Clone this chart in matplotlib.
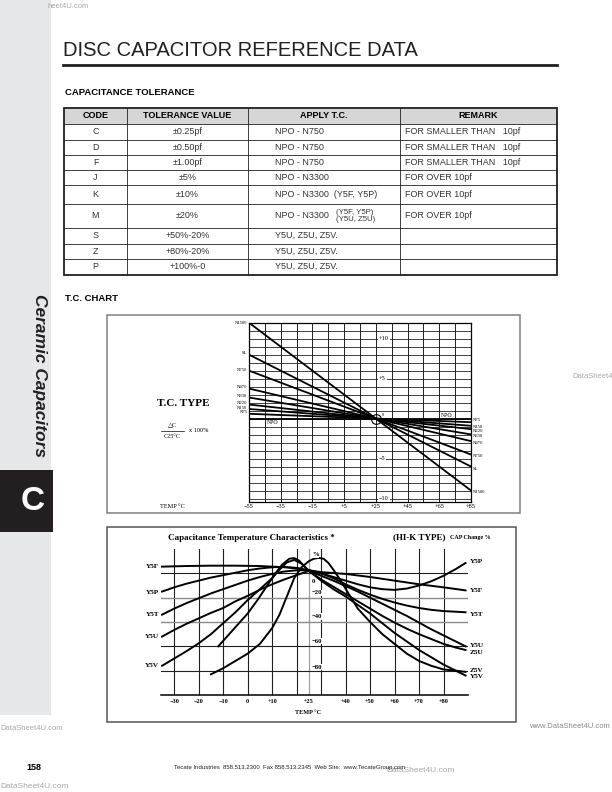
import numpy as np
import matplotlib
matplotlib.use("Agg")
import matplotlib.pyplot as plt
from matplotlib.patches import Rectangle

plt.rcParams["font.family"] = ["Liberation Sans", "DejaVu Sans"]
SERIF = ["Liberation Serif", "DejaVu Serif"]

# ---- capacitance tolerance table ----
table_headers = ["CODE", "TOLERANCE VALUE", "APPLY T.C.", "REMARK"]
codes = ["C", "D", "F", "J", "K", "M", "S", "Z", "P"]
tolerances = ["±0.25pf", "±0.50pf", "±1.00pf", "±5%", "±10%", "±20%",
              "+50%-20%", "+80%-20%", "+100%-0"]
apply_tc = ["NPO - N750", "NPO - N750", "NPO - N750", "NPO - N3300",
            "NPO - N3300  (Y5F, Y5P)", "NPO - N3300", "Y5U, Z5U, Z5V.",
            "Y5U, Z5U, Z5V.", "Y5U, Z5U, Z5V."]
remarks = ["FOR SMALLER THAN   10pf"] * 3 + ["FOR OVER 10pf"] * 3 + [""] * 3

# ---- T.C. chart (delta C %, at -55, +25, +85 C) ----
tc_names = ["N1500", "SL", "N750", "N470", "N330", "N220", "N150", "N75", "NPO"]
tc_temps = [-55, 25, 85]
tc_cold = [12.0, 8.0, 6.0, 3.76, 2.64, 1.76, 1.2, 0.6, 0.0]
tc_hot = [-9.0, -6.0, -4.5, -2.82, -1.98, -1.32, -0.9, -0.45, 0.0]
tc_left_label_y = [12.0, 8.2, 6.1, 3.95, 2.84, 2.0, 1.37, 0.8]
tc_right_label_y = [-9.2, -6.25, -4.7, -3.0, -2.2, -1.55, -1.0, -0.2]

# ---- HI-K capacitance temperature characteristics ----
y5f_t = [-35, -25, -15, -5, 5, 15, 20, 25, 30, 40, 50, 60, 70, 80, 89]
y5f_c = [5.5, 6, 6.3, 6.3, 6, 5, 4, 2.5, 1, -0.5, -3, -6, -9, -11.5, -14]
y5p_t = [-35, -30, -25, -20, -15, -10, -5, 0, 5, 10, 15, 20, 25, 30, 35, 40,
         45, 50, 55, 60, 65, 70, 75, 80, 85, 89]
y5p_c = [-15, -11.5, -8.5, -6, -3.5, -1.5, 0.5, 2.5, 4, 5, 5.3, 4.5, 2.5, 0,
         -3, -6, -9, -11.5, -13, -13.6, -12.5, -10, -6.5, -2, 3.5, 8.5]
y5t_t = [-35, -30, -25, -20, -15, -10, -5, 0, 5, 10, 15, 20, 25, 30, 35, 40,
         45, 50, 55, 60, 65, 70, 75, 80, 89]
y5t_c = [-34, -29, -24.5, -20.5, -16.5, -13, -9.5, -6, -3, -0.5, 1.5, 2.5,
         2.5, 0, -4, -9, -13.5, -17.5, -21, -24, -26.5, -28.5, -30, -31, -32]
y5u_t = [-35, -30, -25, -20, -15, -10, -5, 0, 5, 10, 15, 20, 25, 35, 45, 55,
         65, 75, 89]
y5u_c = [-52, -46.5, -41.5, -37, -32.5, -28.5, -23, -18.5, -13.5, -9, -5,
         -1.5, 2, -6, -15, -25, -35, -46, -60]
y5v_t = [-35, -30, -25, -20, -15, -10, -5, 0, 5, 10, 13, 16, 19, 22, 25, 30,
         35, 40, 45, 50, 55, 60, 65, 70, 75, 80, 85, 89]
y5v_c = [-76, -70, -64, -57.5, -50, -41, -32, -22, -13, -4, 3, 9, 11, 8, 2,
         -6, -13, -19, -26, -33, -41, -49, -56, -63, -69, -75, -80, -84]
z5u_t = [-12, -8, -4, 0, 4, 8, 11, 14, 17, 19, 21, 23, 25, 30, 35, 40, 45,
         50, 55, 60, 65, 70, 75, 80, 85, 89]
z5u_c = [-60, -51, -42, -33, -22, -10, -1, 7, 12, 12.5, 10.5, 6, 2, -5, -11,
         -17, -23, -29, -35, -40.5, -45.5, -50, -54, -58, -61, -63]
z5v_t = [-15, -10, -5, 0, 5, 10, 13, 16, 19, 22, 25, 27, 29, 31, 33, 35, 38,
         41, 45, 50, 55, 60, 65, 70, 75, 80, 85, 89]
z5v_c = [-83, -78, -72, -66, -58, -45, -34, -19, -4, 5, 10, 12, 12.7, 12,
         8.5, 3, -6, -16, -29, -40, -50, -58, -66, -72, -76, -79, -80, -81]
hik_xticks = [-30, -20, -10, 0, 10, 25, 40, 50, 60, 70, 80]
hik_xlabels = ["−30", "−20", "−10", "0", "+10", "+25", "+40", "+50", "+60",
               "+70", "+80"]


fig = plt.figure(figsize=(6.12, 7.92), dpi=100)
pg = fig.add_axes([0, 0, 1, 1])
pg.set_xlim(0, 612)
pg.set_ylim(792, 0)
pg.axis("off")


def box_axes(x0, y0, x1, y1):
    return fig.add_axes([x0 / 612, 1 - y1 / 792, (x1 - x0) / 612, (y1 - y0) / 792])


# side bar
pg.add_patch(Rectangle((0, 0), 51, 715, color="#e6e7e8", lw=0))
pg.add_patch(Rectangle((0, 470), 53, 62, color="#231f20", lw=0))
pg.text(33, 502, "C", color="white", fontsize=24, fontweight="bold",
        ha="center", va="center")
pg.text(39, 376, "Ceramic Capacitors", rotation=-90, fontsize=12.5,
        fontweight="bold", fontstyle="italic", ha="center", va="center",
        color="#231f20")

# title
pg.text(63, 56, "DISC CAPACITOR REFERENCE DATA", fontsize=14.5, va="baseline",
        color="#231f20")
pg.plot([63, 557], [64.5, 64.5], color="#231f20", lw=2)

# table
pg.text(65, 95, "CAPACITANCE TOLERANCE", fontsize=6.8, fontweight="bold",
        va="baseline")
row_y = [108, 124, 139.5, 155, 170, 185, 204, 228, 243.5, 259, 274.5]
col_x = [64, 127, 248, 400, 557]
pg.add_patch(Rectangle((col_x[0], row_y[0]), col_x[-1] - col_x[0],
                       row_y[1] - row_y[0], color="#d6d6d6", lw=0))
for y in row_y[1:-1]:
    pg.plot([col_x[0], col_x[-1]], [y, y], color="#231f20", lw=0.6)
for x in col_x[1:-1]:
    pg.plot([x, x], [row_y[0], row_y[-1]], color="#231f20", lw=0.6)
pg.add_patch(Rectangle((col_x[0], row_y[0]), col_x[-1] - col_x[0],
                       row_y[-1] - row_y[0], fill=False, ec="#231f20", lw=1.3))
hy = (row_y[0] + row_y[1]) / 2
for i, h in enumerate(table_headers):
    pg.text((col_x[i] + col_x[i + 1]) / 2, hy, h, fontsize=6.5,
            fontweight="bold", ha="center", va="center")
for i in range(len(codes)):
    cy = (row_y[i + 1] + row_y[i + 2]) / 2
    pg.text((col_x[0] + col_x[1]) / 2, cy, codes[i], fontsize=6.5,
            ha="center", va="center", color="#333333")
    pg.text((col_x[1] + col_x[2]) / 2, cy, tolerances[i], fontsize=6.5,
            ha="center", va="center", color="#333333")
    pg.text(275, cy, apply_tc[i], fontsize=6.5, va="center", color="#333333")
    pg.text(405, cy, remarks[i], fontsize=6.5, va="center", color="#333333")
    if codes[i] == "M":
        pg.text(336, cy - 4, "(Y5F, Y5P)", fontsize=5.6, va="center",
                color="#333333")
        pg.text(336, cy + 3.5, "(Y5U, Z5U)", fontsize=5.6, va="center",
                color="#333333")

# ---- T.C. chart ----
pg.text(65, 301, "T.C. CHART", fontsize=6.8, fontweight="bold", va="baseline")
pg.add_patch(Rectangle((107, 315), 413, 198, fill=False, ec="#808080", lw=1.1))
pg.text(157, 403, "T.C. TYPE", family=SERIF, fontsize=8, fontweight="bold",
        va="center")
pg.text(172, 425, "△C", family=SERIF, fontsize=4.5, ha="center", va="center")
pg.plot([161, 184], [430.5, 430.5], color="black", lw=0.5)
pg.text(172, 436.5, "C25°C", family=SERIF, fontsize=4.5, ha="center",
        va="center")
pg.text(189, 431, "x 100%", family=SERIF, fontsize=4.5, va="center")
pg.text(160, 506, "TEMP °C", family=SERIF, fontsize=4.5, va="center")
pg.text(265, 395, "DataSheet4U.com", fontsize=6.5, color="#c8c8c8",
        va="center", zorder=5)

ax1 = box_axes(249, 322.7, 471, 501.7)
ax1.set_xlim(-55, 85)
ax1.set_ylim(-10.4, 12)
for t in range(-55, 86, 10):
    ax1.axvline(t, color="#231f20", lw=0.7, zorder=1)
for v in range(-10, 13):
    ax1.axhline(v, color="#231f20", lw=0.6, zorder=1)
for name, c0, c1 in zip(tc_names, tc_cold, tc_hot):
    ax1.plot(tc_temps, [c0, 0, c1], color="black", lw=1.3, zorder=3)
for name, ly in zip(tc_names[:-1], tc_left_label_y):
    ax1.text(-56, ly, name, family=SERIF, fontsize=3.3, ha="right",
             va="center", clip_on=False)
for name, ly in zip(tc_names[:-1], tc_right_label_y):
    ax1.text(86, ly, name, family=SERIF, fontsize=3.3, ha="left",
             va="center", clip_on=False)
ax1.text(-44, -0.15, "NPO", family=SERIF, fontsize=4.2, va="top", zorder=4)
ax1.text(66, 0.1, "NPO", family=SERIF, fontsize=4.2, va="bottom", zorder=4)
ax1.plot([25], [0], marker="o", ms=7, mfc="none", mec="black", mew=0.8,
         zorder=4)
ax1.text(28.5, 0.5, "0", family=SERIF, fontsize=3.2, va="center", zorder=4)
for v, s in [(10, "+10"), (5, "+5"), (-5, "−5"), (-10, "−10")]:
    ax1.text(27, v, s, family=SERIF, fontsize=4.5, va="center", zorder=4,
             bbox=dict(fc="white", ec="none", pad=0.6))
ax1.set_xticks(range(-55, 86, 20))
ax1.set_xticklabels(["−55", "−35", "−15", "+5", "+25", "+45", "+65", "+85"],
                    family=SERIF, fontsize=4.5)
ax1.set_yticks([])
ax1.tick_params(axis="x", length=0, pad=2)
for sp in ax1.spines.values():
    sp.set_linewidth(0.9)

# ---- HI-K chart ----
pg.add_patch(Rectangle((107, 527), 409, 195, fill=False, ec="#555555", lw=1.1))
pg.text(168, 537.5, "Capacitance Temperature Characteristics *", family=SERIF,
        fontsize=6.5, fontweight="bold", va="center")
pg.text(393, 537.5, "(HI-K TYPE)", family=SERIF, fontsize=6.5,
        fontweight="bold", va="center")
pg.text(450, 537.5, "CAP Change %", family=SERIF, fontsize=4.3,
        fontweight="bold", va="center")

ax2 = box_axes(161, 549, 468, 695)
ax2.set_xlim(-35.4, 90)
ax2.set_ylim(-100, 20)
for t in range(-30, 81, 10):
    ax2.axvline(t, color="#231f20", lw=0.8, zorder=1)
ax2.axvline(25, color="#a0a0a0", lw=0.9, zorder=1)
for v in [0, -20, -40, -60, -80]:
    col = "#8a8a8a" if v in (-20, -40) else "#231f20"
    ax2.axhline(v, color=col, lw=1.0 if v in (-20, -40) else 0.8, zorder=1)
for t, c in [(y5f_t, y5f_c), (y5p_t, y5p_c), (y5t_t, y5t_c), (y5u_t, y5u_c),
             (y5v_t, y5v_c), (z5u_t, z5u_c), (z5v_t, z5v_c)]:
    ax2.plot(t, c, color="black", lw=1.4, zorder=3, solid_joinstyle="round")
for v, s in [(15.5, "%"), (-7, "0"), (-16, "−20"), (-35.5, "−40"),
             (-56, "−60"), (-77, "−80")]:
    ax2.text(26.3, v, s, family=SERIF, fontsize=4.8, fontweight="bold",
             va="center", zorder=4, bbox=dict(fc="white", ec="none", pad=0.4))
ax2.set_xticks(hik_xticks)
ax2.set_xticklabels(hik_xlabels, family=SERIF, fontsize=4.5, fontweight="bold")
ax2.set_yticks([])
ax2.tick_params(axis="x", length=0, pad=3)
for side in ["top", "left", "right"]:
    ax2.spines[side].set_visible(False)
ax2.spines["bottom"].set_linewidth(1.1)
pg.text(308, 712.5, "TEMP °C", family=SERIF, fontsize=4.5, fontweight="bold",
        ha="center", va="center")

for s, y in [("Y5F", 566.7), ("Y5P", 592.7), ("Y5T", 614.3), ("Y5U", 636.7),
             ("Y5V", 665.5)]:
    pg.text(159, y, s, family=SERIF, fontsize=5.2, fontweight="bold",
            ha="right", va="center")
for s, y in [("Z5U", 651.7), ("Z5V", 676)]:
    pg.text(199, y, s, family=SERIF, fontsize=5.2, fontweight="bold",
            va="center")
for s, y in [("Y5P", 561.7), ("Y5F", 590.7), ("Y5T", 614), ("Y5U", 645.5),
             ("Z5U", 652.5), ("Z5V", 670.5), ("Y5V", 677)]:
    pg.text(470, y, s, family=SERIF, fontsize=5.2, fontweight="bold",
            va="center")

# watermarks and footer
wm = "#a8a8a8"
pg.text(47, 7, "heet4U.com", fontsize=5.5, color=wm, va="center")
pg.text(572, 376, "DataSheet4U.com", fontsize=5.5, color=wm, va="center")
pg.text(0, 728, "DataSheet4U.com", fontsize=5.5, color=wm, va="center")
pg.text(610, 727, "www.DataSheet4U.com", fontsize=5.5, color="#888888",
        ha="right", va="center")
pg.text(0, 786, "DataSheet4U.com", fontsize=6, color=wm, va="center")
pg.text(386, 771, "DataSheet4U.com", fontsize=6, color=wm, va="center")
pg.text(26, 768, "158", fontsize=6.5, fontweight="bold", va="center")
pg.text(174, 767, "Tecate Industries  858.513.2300  Fax 858.513.2345  "
        "Web Site:  www.TecateGroup.com", fontsize=4.3, va="center",
        color="#231f20")

fig.savefig("out.png", dpi=100)
